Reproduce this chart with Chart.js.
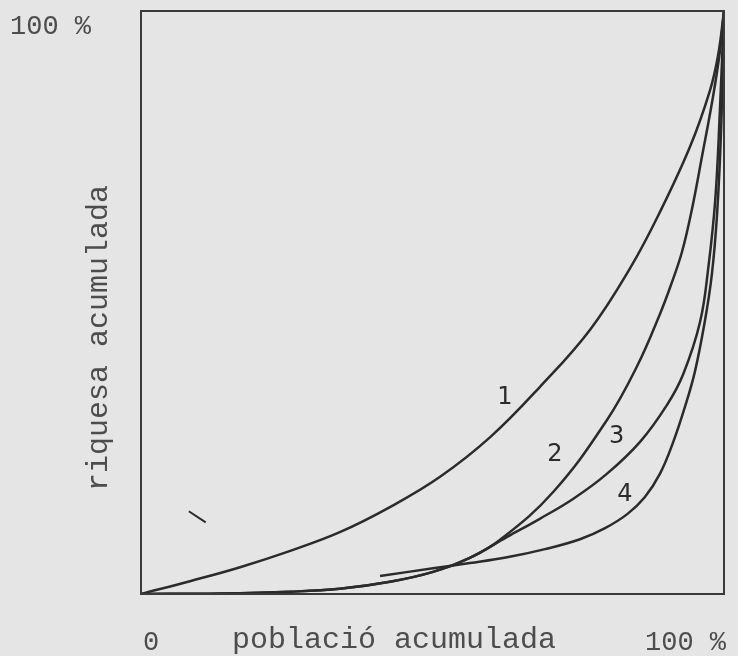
<!DOCTYPE html>
<html>
<head>
<meta charset="utf-8">
<script src="https://cdn.jsdelivr.net/npm/chart.js@4"></script>
<style>
  html, body { margin: 0; padding: 0; background: #e5e5e5; }
  #wrap { width: 738px; height: 656px; }
</style>
</head>
<body>
<div id="wrap"><canvas id="lorenzChart" width="738" height="656"></canvas></div>
<script>
// LORENZ CURVES (x = població acumulada %, y = riquesa acumulada %)
const curve1X = [0, 8.4, 17.0, 25.6, 34.1, 42.7, 51.3, 59.9, 68.4, 77.0, 83.9, 89.0, 94.2, 97.6, 99.0, 100];
const curve1Y = [0, 2.2, 4.6, 7.4, 10.6, 14.9, 20.1, 26.9, 35.5, 45.3, 55.9, 65.5, 76.8, 86.4, 92.5, 100];

const curve2X = [0, 13.6, 25.6, 34.1, 42.7, 50.1, 56.4, 61.6, 70.7, 79.9, 85.1, 89.0, 90.9, 92.8, 94.5, 96.2, 98.1, 99.3, 100];
const curve2Y = [0, 0.1, 0.4, 0.9, 2.1, 3.8, 6.2, 9.3, 17.5, 29.8, 39.1, 48.0, 53.0, 58.7, 66.0, 74.9, 85.2, 93.1, 100];

const curve3X = [0, 13.6, 25.6, 34.1, 42.7, 50.1, 56.4, 62.8, 68.4, 74.1, 79.9, 85.6, 90.2, 93.0, 95.9, 97.3, 98.5, 99.3, 100];
const curve3Y = [0, 0.1, 0.4, 0.9, 2.1, 3.8, 6.2, 9.8, 12.9, 16.3, 20.6, 26.1, 32.4, 37.7, 46.7, 55.9, 67.6, 83.0, 100];

const curve4X = [41.0, 50.1, 56.4, 62.8, 69.3, 75.3, 79.6, 83.4, 86.4, 89.0, 91.3, 93.3, 95.0, 96.7, 97.9, 98.8, 99.5, 100];
const curve4Y = [3.1, 4.4, 5.3, 6.3, 7.7, 9.4, 11.3, 13.7, 16.6, 20.6, 26.1, 32.1, 38.1, 46.7, 54.7, 65.0, 79.6, 100];

// stray pen mark on the scan
const markX = [8.2, 11.1];
const markY = [14.2, 12.3];

// curve numbers written next to each curve
const curveNames = ['1', '2', '3', '4'];
const nameX = [62.4, 71, 81.6, 83];
const nameY = [33.6, 23.8, 26.9, 17];

const xTitle = 'població acumulada';
const yTitle = 'riquesa acumulada';
const tickZero = '0';
const tickFull = '100 %';

const toPoints = (xs, ys) => xs.map((x, i) => ({ x: x, y: ys[i] }));

const ink = '#2b2b2b';
const typeInk = '#4d4d4d';

// background, box and texts
const paperPlugin = {
    id: 'paper',
    beforeDraw(chart) {
        const c = chart.ctx;
        c.save();
        c.fillStyle = '#e5e5e5';
        c.fillRect(0, 0, chart.width, chart.height);
        c.restore();
    },
    afterDraw(chart) {
        const c = chart.ctx;
        const a = chart.chartArea;
        const xs = chart.scales.x;
        const ys = chart.scales.y;
        c.save();
        // frame
        c.strokeStyle = '#3a3a3a';
        c.lineWidth = 2;
        c.strokeRect(a.left, a.top, a.right - a.left, a.bottom - a.top);

        // typewriter labels
        c.fillStyle = typeInk;
        c.font = '27px "Liberation Mono"';
        c.textBaseline = 'alphabetic';
        c.textAlign = 'left';
        c.fillText(tickFull, 10, 34);
        c.fillText(tickZero, 143, 650);
        c.fillText(tickFull, 645, 650);

        c.font = '30px "Liberation Mono"';
        c.textAlign = 'center';
        c.fillText(xTitle, 394, 648);

        c.save();
        c.translate(107, 338);
        c.rotate(-Math.PI / 2);
        c.fillText(yTitle, 0, 0);
        c.restore();

        // hand written curve numbers
        c.fillStyle = ink;
        c.font = '24px "DejaVu Sans"';
        c.textAlign = 'center';
        c.textBaseline = 'middle';
        curveNames.forEach((n, i) => {
            c.fillText(n, xs.getPixelForValue(nameX[i]), ys.getPixelForValue(nameY[i]));
        });
        c.restore();
    }
};

const lineStyle = {
    borderColor: ink,
    borderWidth: 2.5,
    pointRadius: 0,
    showLine: true,
    fill: false,
    tension: 0.4,
};

const ctx = document.getElementById('lorenzChart').getContext('2d');
const lorenzChart = new Chart(ctx, {
    type: 'scatter',
    data: {
        datasets: [
            { label: '1', data: toPoints(curve1X, curve1Y), ...lineStyle },
            { label: '2', data: toPoints(curve2X, curve2Y), ...lineStyle },
            { label: '3', data: toPoints(curve3X, curve3Y), ...lineStyle },
            { label: '4', data: toPoints(curve4X, curve4Y), ...lineStyle },
            { label: 'mark', data: toPoints(markX, markY), ...lineStyle, borderWidth: 2, tension: 0 },
        ]
    },
    options: {
        responsive: false,
        animation: false,
        layout: {
            padding: { left: 141, top: 11, right: 14, bottom: 62 }
        },
        scales: {
            x: { type: 'linear', min: 0, max: 100, display: false },
            y: { type: 'linear', min: 0, max: 100, display: false },
        },
        plugins: {
            legend: { display: false },
            tooltip: { enabled: false },
        }
    },
    plugins: [paperPlugin]
});
</script>
</body>
</html>
